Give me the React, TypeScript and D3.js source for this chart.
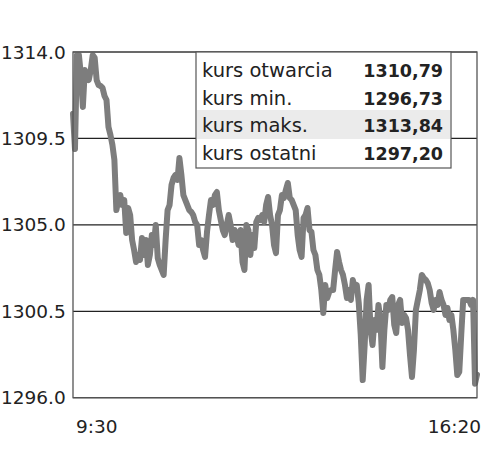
import React from 'react';
import * as d3 from 'd3';

// session 9:30 -> 16:20, one reading every 2 minutes
const sessionStart = '9:30';
const sessionEnd = '16:20';
const sessionMinutes = 410;
const stepMinutes = 2;

const prices = [
  1310.79, 1308.95, 1313.84, 1313.84, 1312.80, 1311.14, 1313.06, 1312.80, 1312.54, 1313.06,
  1313.84, 1313.70, 1312.54, 1312.28, 1312.23, 1312.13, 1311.71, 1311.50, 1310.09, 1309.68,
  1309.16, 1308.38, 1305.77, 1306.29, 1306.55, 1306.03, 1306.29, 1304.58, 1305.88, 1305.51,
  1304.21, 1303.69, 1303.07, 1303.43, 1303.17, 1304.32, 1303.43, 1304.21, 1302.91, 1303.43,
  1304.47, 1303.95, 1304.99, 1303.27, 1302.91, 1302.65, 1302.39, 1304.21, 1305.77, 1306.03,
  1307.08, 1307.44, 1307.60, 1307.34, 1308.48, 1307.60, 1306.55, 1306.29, 1306.03, 1305.77,
  1305.67, 1305.51, 1305.15, 1304.99, 1303.95, 1304.21, 1303.69, 1303.33, 1304.63, 1305.51,
  1306.29, 1306.03, 1306.55, 1306.71, 1305.77, 1305.25, 1304.73, 1304.47, 1304.99, 1305.51,
  1304.99, 1304.21, 1304.73, 1304.47, 1303.95, 1304.73, 1303.07, 1302.65, 1304.99, 1304.73,
  1303.43, 1304.47, 1303.79, 1305.15, 1305.36, 1305.25, 1305.51, 1305.15, 1306.03, 1306.45,
  1305.51, 1304.99, 1303.95, 1303.53, 1305.51, 1305.77, 1306.55, 1306.40, 1306.81, 1307.18,
  1306.40, 1306.29, 1306.03, 1305.77, 1304.47, 1303.69, 1303.33, 1305.36, 1305.51, 1305.88,
  1304.73, 1304.63, 1303.69, 1303.43, 1302.65, 1302.39, 1301.61, 1300.41, 1301.87, 1301.19,
  1301.50, 1301.61, 1301.61, 1302.65, 1303.59, 1303.07, 1302.65, 1302.39, 1301.87, 1301.19,
  1301.61, 1301.09, 1302.13, 1301.61, 1301.87, 1300.93, 1299.27, 1296.92, 1298.74, 1301.09,
  1301.87, 1299.53, 1298.74, 1300.05, 1299.53, 1300.83, 1300.05, 1297.60, 1299.53, 1300.83,
  1300.57, 1301.09, 1301.24, 1299.79, 1299.37, 1300.83, 1301.09, 1299.89, 1300.31, 1300.15,
  1299.53, 1298.22, 1297.08, 1298.48, 1300.57, 1301.09, 1301.61, 1302.39, 1302.23, 1302.13,
  1301.97, 1301.61, 1300.93, 1300.57, 1301.09, 1300.83, 1301.50, 1301.09, 1300.83, 1300.31,
  1300.67, 1300.05, 1300.31, 1299.53, 1298.48, 1297.18, 1297.34, 1299.27, 1301.09, 1301.09,
  1301.09, 1301.09, 1300.83, 1301.09, 1296.73, 1297.20,
];

const yTicks = [1296.0, 1300.5, 1305.0, 1309.5, 1314.0];

const statLabels = ['kurs otwarcia', 'kurs min.', 'kurs maks.', 'kurs ostatni'];
const statValues = ['1310,79', '1296,73', '1313,84', '1297,20'];

const font = 'DejaVu Sans, sans-serif';

export default function App() {
  const width = 500;
  const height = 452;
  const left = 73;
  const right = 477;
  const top = 52;
  const bottom = 397.7;

  const x = d3.scaleLinear().domain([0, sessionMinutes]).range([left, right]);
  const y = d3.scaleLinear().domain([1296, 1314]).range([bottom, top]);

  const line = d3
    .line<number>()
    .x((_, i) => x(i * stepMinutes))
    .y((d) => y(d));

  // stats box
  const boxX = 196;
  const boxW = 255;
  const rowH = 29;
  const boxH = rowH * statLabels.length;

  return (
    <svg
      width={width}
      height={height}
      style={{ position: 'absolute', left: 0, top: 0, background: '#fff' }}
    >
      {yTicks.map((t) => (
        <line key={t} x1={left} x2={right} y1={y(t)} y2={y(t)} stroke="#222" strokeWidth={1.2} />
      ))}
      <path
        d={line(prices) ?? ''}
        fill="none"
        stroke="#7d7d7d"
        strokeWidth={6}
        strokeLinejoin="round"
        strokeLinecap="round"
      />
      <rect x={left} y={top} width={right - left} height={bottom - top} fill="none" stroke="#555" strokeWidth={1.3} />
      {yTicks.map((t) => (
        <text key={t} x={1} y={y(t) + 6.5} fontFamily={font} fontSize={18.5} fill="#222">
          {t.toFixed(1)}
        </text>
      ))}
      <text x={76} y={433} fontFamily={font} fontSize={18.5} fill="#222">
        {sessionStart}
      </text>
      <text x={481} y={433} fontFamily={font} fontSize={18.5} fill="#222" textAnchor="end">
        {sessionEnd}
      </text>

      <g>
        <rect x={boxX} y={top} width={boxW} height={boxH} fill="#fff" stroke="#555" strokeWidth={1.2} />
        <rect x={boxX + 1} y={top + rowH * 2} width={boxW - 2} height={rowH} fill="#ebebeb" />
        {statLabels.map((l, i) => (
          <g key={l}>
            <text x={202} y={top + 25 + i * 27.5} fontFamily={font} fontSize={19.5} fill="#222">
              {l}
            </text>
            <text
              x={443}
              y={top + 25 + i * 27.5}
              fontFamily={font}
              fontSize={17.5}
              fontWeight="bold"
              fill="#222"
              textAnchor="end"
            >
              {statValues[i]}
            </text>
          </g>
        ))}
      </g>
    </svg>
  );
}
